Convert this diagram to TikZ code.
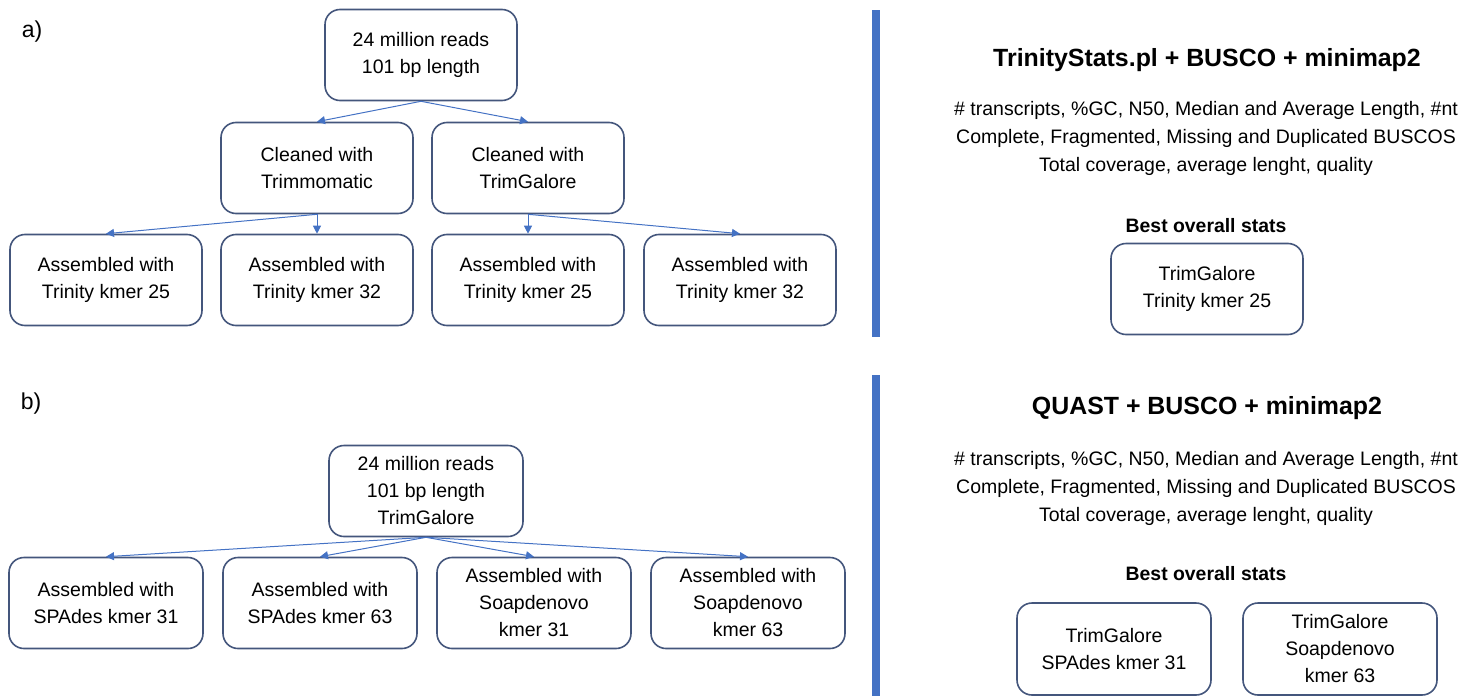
\documentclass[tikz,border=0pt]{standalone}
\usepackage{fontspec}
\setmainfont{Liberation Sans}
\usetikzlibrary{arrows.meta}
\definecolor{boxline}{RGB}{68,86,124}
\definecolor{arrowblue}{RGB}{68,114,196}
\begin{document}
\begin{tikzpicture}[x=0.5pt,y=-0.5pt,
  box/.style={draw=boxline, line width=0.8pt, rounded corners=7.5pt,
    minimum width=96pt, minimum height=45.5pt, inner sep=0pt, align=center,
    font=\fontsize{9.75}{13.5}\selectfont},
  link/.style={draw=arrowblue, line width=0.5pt, -{Triangle[length=4pt,width=4pt]}},
  title/.style={font=\fontsize{12.45}{15}\selectfont\bfseries, inner sep=0pt},
  stats/.style={font=\fontsize{9.75}{14}\selectfont, align=center, inner sep=0pt},
  best/.style={font=\fontsize{9.7}{12}\selectfont\bfseries, inner sep=0pt},
  panel/.style={font=\fontsize{11.5}{13}\selectfont, inner sep=0pt},
  bar/.style={fill=arrowblue}]
\useasboundingbox (0,0) rectangle (1462,696);

% ---------- a) ----------
\node[panel] (la) at (32,32) {a)};
\node[box] (a0) at (421,55) {24 million reads\\101 bp length};
\node[box] (a1) at (317,168) {Cleaned with\\Trimmomatic};
\node[box] (a2) at (528,168) {Cleaned with\\TrimGalore};
\node[box] (a11) at (106,280) {Assembled with\\Trinity kmer 25};
\node[box] (a12) at (317,280) {Assembled with\\Trinity kmer 32};
\node[box] (a21) at (528,280) {Assembled with\\Trinity kmer 25};
\node[box] (a22) at (740,280) {Assembled with\\Trinity kmer 32};
\draw[link] (a0.south) -- (a1.north);
\draw[link] (a0.south) -- (a2.north);
\draw[link] (a1.south) -- (a11.north);
\draw[link] (a1.south) -- (a12.north);
\draw[link] (a2.south) -- (a21.north);
\draw[link] (a2.south) -- (a22.north);

% ---------- b) ----------
\node[panel] (lb) at (31,404) {b)};
\node[box, minimum width=97pt] (b0) at (426,491) {24 million reads\\101 bp length\\TrimGalore};
\node[box, minimum width=97pt] (b1) at (106,603) {Assembled with\\SPAdes kmer 31};
\node[box, minimum width=97pt] (b2) at (320,603) {Assembled with\\SPAdes kmer 63};
\node[box, minimum width=97pt] (b3) at (534,603) {Assembled with\\Soapdenovo\\kmer 31};
\node[box, minimum width=97pt] (b4) at (748,603) {Assembled with\\Soapdenovo\\kmer 63};
\draw[link] (b0.south) -- (b1.north);
\draw[link] (b0.south) -- (b2.north);
\draw[link] (b0.south) -- (b3.north);
\draw[link] (b0.south) -- (b4.north);

% ---------- separators ----------
\fill[bar] (872,10) rectangle (880,337);
\fill[bar] (872,375) rectangle (880,696);

% ---------- right a ----------
\node[title] (ta) at (1207,60) {TrinityStats.pl + BUSCO + minimap2};
\node[stats] (sa) at (1206,138) {\# transcripts, \%GC, N50, Median and Average Length, \#nt\\Complete, Fragmented, Missing and Duplicated BUSCOS\\Total coverage, average lenght, quality};
\node[best] (bsa) at (1206,226) {Best overall stats};
\node[box] (ra) at (1207,289) {TrimGalore\\Trinity kmer 25};

% ---------- right b ----------
\node[title] (tb) at (1207,408) {QUAST + BUSCO + minimap2};
\node[stats] (sb) at (1206,488) {\# transcripts, \%GC, N50, Median and Average Length, \#nt\\Complete, Fragmented, Missing and Duplicated BUSCOS\\Total coverage, average lenght, quality};
\node[best] (bsb) at (1206,574) {Best overall stats};
\node[box, minimum width=97pt, minimum height=46pt] (rb1) at (1114,649) {TrimGalore\\SPAdes kmer 31};
\node[box, minimum width=97pt, minimum height=46pt] (rb2) at (1340,649) {TrimGalore\\Soapdenovo\\kmer 63};
\end{tikzpicture}
\end{document}
